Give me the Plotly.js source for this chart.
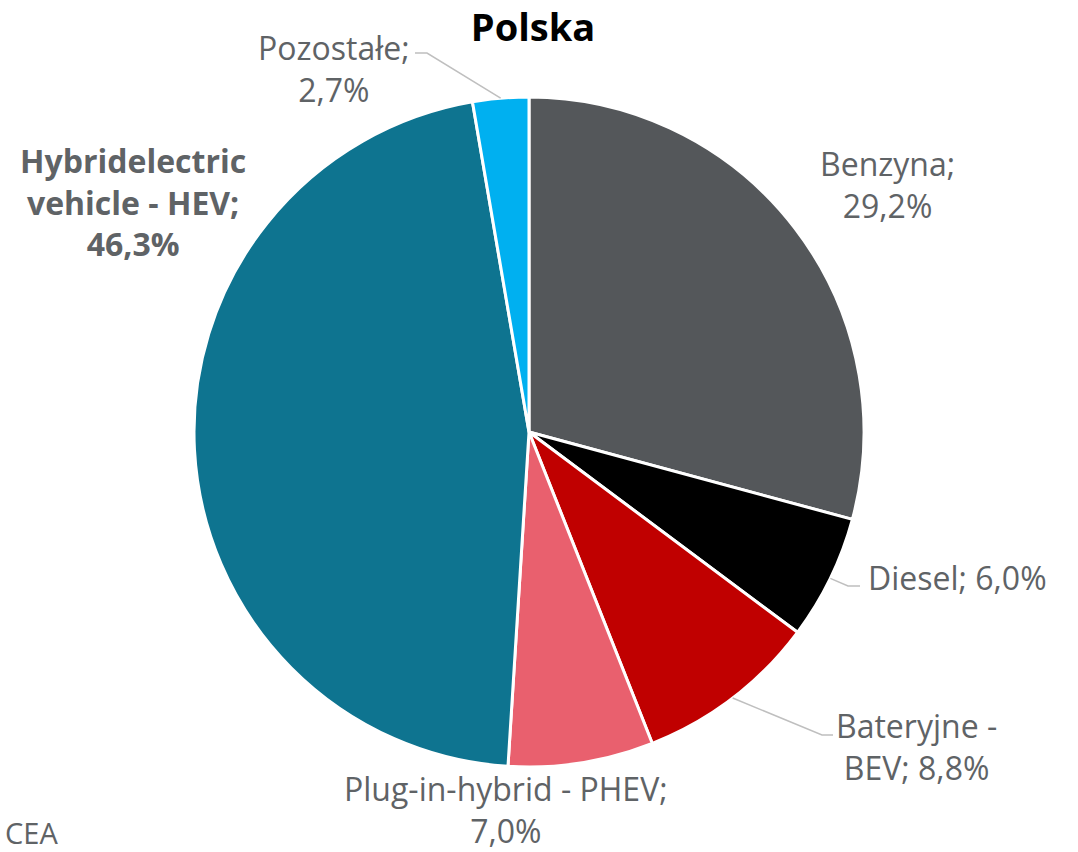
<!DOCTYPE html>
<html><head><meta charset="utf-8">
<script src="https://cdn.plot.ly/plotly-3.0.1.min.js"></script>
<style>html,body{margin:0;padding:0;background:#fff;}#chart{width:1078px;height:852px;}</style>
</head><body><div id="chart"></div>
<script>
const categories = ["Benzyna", "Diesel", "Bateryjne - BEV", "Plug-in-hybrid - PHEV", "Hybridelectric vehicle - HEV", "Pozostałe"];
const shares = [29.2, 6.0, 8.8, 7.0, 46.3, 2.7];
const labelTexts = ["Benzyna;<br>29,2%", "Diesel; 6,0%", "Bateryjne -<br>BEV; 8,8%", "Plug-in-hybrid - PHEV;<br>7,0%", "<b>Hybridelectric<br>vehicle - HEV;<br>46,3%</b>", "Pozostałe;<br>2,7%"];
const colors = ["#54575A", "#000000", "#C00000", "#E9606E", "#0E7490", "#00B0F0"];

const W = 1078, H = 852;
const cx = 529, cy = 432, R = 335;
const font = "'Open Sans', Lato, sans-serif";
const txtColor = "#5F6366";

// label anchor positions (px) and alignment
const labelPos = [
  {x: 887, y: 185, xa: "center"},
  {x: 866, y: 577, xa: "left"},
  {x: 916, y: 746, xa: "center"},
  {x: 506, y: 809, xa: "center"},
  {x: 133, y: 202, xa: "center"},
  {x: 334, y: 68, xa: "center"}
];
// leader lines: elbow and end points for labels that have them
const leaders = {
  1: {ex: 848, ey: 586, lx: 860},
  2: {ex: 822, ey: 735, lx: 833},
  5: {ex: 427, ey: 53, lx: 415}
};

const total = shares.reduce((a, b) => a + b, 0);
let cum = 0;
const shapes = [];
shares.forEach((v, i) => {
  const mid = (cum + v / 2) / total * 2 * Math.PI;
  cum += v;
  if (leaders[i]) {
    const px = cx + R * Math.sin(mid), py = cy - R * Math.cos(mid);
    const L = leaders[i];
    shapes.push({type: "path", xref: "paper", yref: "paper",
      path: `M ${px/W} ${1-py/H} L ${L.ex/W} ${1-L.ey/H} L ${L.lx/W} ${1-L.ey/H}`,
      line: {color: "#BFBFBF", width: 1.5}});
  }
});

const annotations = labelPos.map((p, i) => ({
  text: labelTexts[i], xref: "paper", yref: "paper",
  x: p.x / W, y: 1 - p.y / H, xanchor: p.xa, yanchor: "middle",
  align: "center", showarrow: false,
  font: {family: font, size: 32, color: txtColor}
}));
annotations.push({text: "CEA", xref: "paper", yref: "paper", x: 3 / W, y: 1 - 832 / H,
  xanchor: "left", yanchor: "middle", showarrow: false,
  font: {family: font, size: 29, color: txtColor}});

const data = [{
  type: "pie", labels: categories, values: shares, sort: false, direction: "clockwise",
  rotation: 0, textinfo: "none", hoverinfo: "label+percent",
  marker: {colors: colors, line: {color: "#FFFFFF", width: 3}},
  domain: {x: [(cx - R) / W, (cx + R) / W], y: [1 - (cy + R) / H, 1 - (cy - R) / H]}
}];

const layout = {
  width: W, height: H, margin: {l: 0, r: 0, t: 0, b: 0},
  paper_bgcolor: "#FFFFFF", showlegend: false,
  title: {text: "<b>Polska</b>", x: 533 / W, xanchor: "center", y: 1 - 28 / H, yanchor: "middle",
    font: {family: font, size: 38, color: "#000000"}},
  annotations: annotations, shapes: shapes
};
Plotly.newPlot("chart", data, layout, {displayModeBar: false, staticPlot: true});
</script></body></html>
